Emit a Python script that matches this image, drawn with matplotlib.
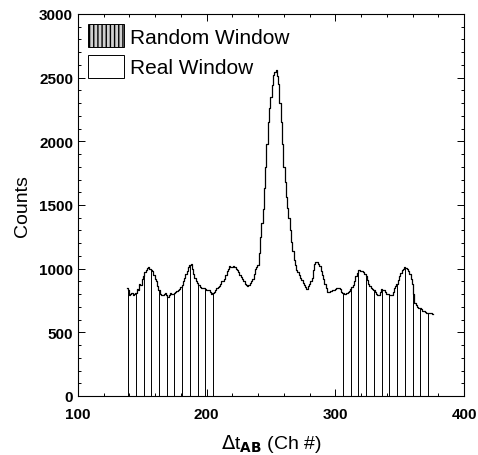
import matplotlib
matplotlib.use("Agg")
import matplotlib.pyplot as plt
import numpy as np
from matplotlib.patches import Patch
from matplotlib.ticker import MultipleLocator

plt.rcParams['font.family'] = ['Liberation Sans', 'DejaVu Sans']

# histogram, one value per channel (138 .. 376)
channels = np.arange(138, 377)
counts = [
    850, 835, 790, 800, 805, 795, 800, 812, 840, 835,
    880, 872, 920, 945, 975, 990, 1005, 1010, 1000, 992,
    985, 950, 920, 900, 865, 830, 800, 795, 790, 800,
    805, 790, 780, 795, 810, 802, 800, 808, 815, 822,
    830, 840, 855, 875, 900, 930, 955, 985, 1010, 1030,
    1040, 1000, 960, 925, 900, 885, 870, 858, 850, 848,
    845, 840, 835, 832, 830, 815, 800, 808, 820, 835,
    850, 855, 860, 880, 900, 905, 920, 950, 980, 1000,
    1020, 1015, 1010, 1018, 1015, 1000, 990, 970, 950, 935,
    920, 900, 880, 870, 865, 872, 890, 905, 920, 960,
    1000, 1010, 1030, 1120, 1250, 1360, 1470, 1630, 1800, 1980,
    2150, 2260, 2350, 2440, 2520, 2545, 2560, 2510, 2450, 2300,
    2150, 1980, 1800, 1680, 1560, 1480, 1400, 1300, 1210, 1140,
    1070, 1025, 990, 970, 950, 930, 910, 890, 870, 855,
    840, 860, 880, 900, 930, 990, 1040, 1055, 1050, 1035,
    1020, 985, 950, 915, 880, 845, 815, 820, 825, 828,
    830, 835, 840, 845, 850, 848, 840, 820, 805, 800,
    800, 808, 815, 828, 840, 855, 870, 905, 940, 965,
    990, 988, 985, 978, 970, 958, 945, 910, 880, 865,
    850, 840, 830, 815, 800, 795, 790, 815, 840, 835,
    830, 815, 800, 798, 795, 792, 790, 820, 850, 865,
    880, 910, 940, 965, 990, 1000, 1010, 1005, 1000, 980,
    960, 920, 880, 800, 730, 715, 700, 695, 690, 680,
    670, 665, 660, 655, 650, 650, 650, 648, 645,
]

# random window channels (vertical lines)
random_left = [139, 145, 151, 157, 163, 169, 175, 181, 187, 193, 199, 205]
random_right = [306, 312, 318, 324, 330, 336, 342, 348, 354, 360, 366, 372]

fig = plt.figure(figsize=(4.78, 4.56), dpi=100)
ax = fig.add_axes([78 / 478, 59 / 456, 386 / 478, 382 / 456])

ax.plot(channels, counts, drawstyle='steps-mid', color='black', lw=0.9)

counts_arr = np.array(counts)
for c in random_left + random_right:
    ax.vlines(c, 0, counts_arr[c - channels[0]], color='black', lw=0.7)

ax.set_xlim(100, 400)
ax.set_ylim(0, 3000)
ax.xaxis.set_major_locator(MultipleLocator(100))
ax.xaxis.set_minor_locator(MultipleLocator(20))
ax.yaxis.set_major_locator(MultipleLocator(500))
ax.yaxis.set_minor_locator(MultipleLocator(100))
ax.tick_params(which='both', direction='in', top=True, right=True, width=0.7)
ax.tick_params(which='major', length=5, labelsize=11)
ax.tick_params(which='minor', length=2.5)
ax.tick_params(axis='x', which='major', pad=8)
for lab in ax.get_xticklabels() + ax.get_yticklabels():
    lab.set_fontweight('bold')
for s in ax.spines.values():
    s.set_linewidth(0.8)

ax.set_ylabel('Counts', fontsize=14, labelpad=6)
ax.set_xlabel(r'$\Delta$t$_{\mathbf{AB}}$ (Ch #)', fontsize=14, labelpad=8)

handles = [
    Patch(facecolor='#d0d0d0', edgecolor='black', hatch='||||', lw=0.7, label='Random Window'),
    Patch(facecolor='white', edgecolor='black', lw=0.7, label='Real Window'),
]
ax.legend(handles=handles, loc='upper left', bbox_to_anchor=(0.026, 0.974),
          frameon=False, fontsize=15, borderpad=0, borderaxespad=0,
          handlelength=1.75, handleheight=1.35, handletextpad=0.25,
          labelspacing=0.35)

fig.savefig('out.png', dpi=100)
